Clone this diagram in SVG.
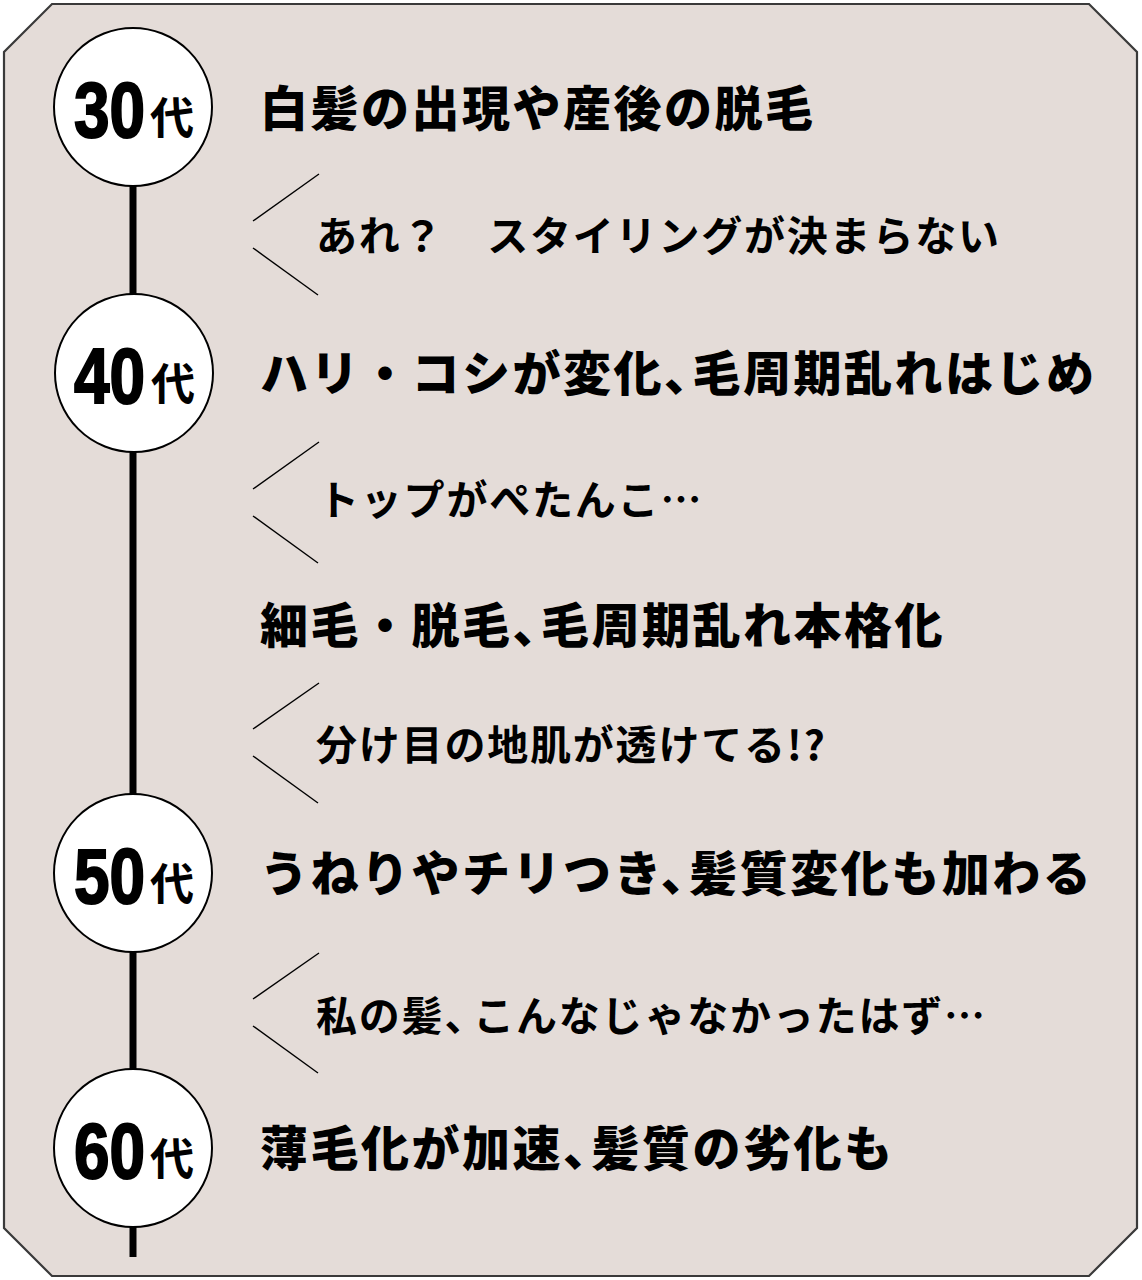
<svg xmlns="http://www.w3.org/2000/svg" width="1142" height="1280" viewBox="0 0 1142 1280">
<style>
.main{font-family:"Noto Sans CJK JP","Noto Sans CJK SC",sans-serif;font-weight:900;font-size:48px;letter-spacing:2.5px;fill:#000}
.sub{font-family:"Noto Sans CJK JP","Noto Sans CJK SC",sans-serif;font-weight:700;font-size:41px;letter-spacing:1.8px;fill:#000}
.num{font-family:"Liberation Sans",Arial,sans-serif;font-weight:700;font-size:78px;fill:#000;stroke:#000;stroke-width:2}
.dai{font-family:"Noto Sans CJK JP","Noto Sans CJK SC",sans-serif;font-weight:700;font-size:44px;fill:#000}
.circ{fill:#fff;stroke:#000;stroke-width:2}
.chev{fill:none;stroke:#000;stroke-width:1.4}
</style>
<polygon points="52,4 1089,4 1137,52 1137,1228 1089,1276 52,1276 4,1228 4,52" fill="#e4dcd8" stroke="#3a3a3a" stroke-width="2.2"/>
<g id="connectors">
<line x1="133" y1="180" x2="133" y2="1257" stroke="#000" stroke-width="7"/>
<polyline class="chev" points="319,174 253,221"/>
<polyline class="chev" points="253,248 318,295"/>
<polyline class="chev" points="319,442 253,489"/>
<polyline class="chev" points="253,516 318,563"/>
<polyline class="chev" points="319,683 253,729"/>
<polyline class="chev" points="253,756 318,803"/>
<polyline class="chev" points="319,953 253,999"/>
<polyline class="chev" points="253,1026 318,1073"/>
</g>
<g id="node-30">
<circle class="circ" cx="133" cy="107" r="79"/>
<text class="num" transform="translate(74,137) scale(0.82,1)">30</text>
<text class="dai" x="150" y="134">代</text>
</g>
<g id="node-40">
<circle class="circ" cx="134" cy="373" r="79"/>
<text class="num" transform="translate(74,403) scale(0.82,1)">40</text>
<text class="dai" x="151" y="400">代</text>
</g>
<g id="node-50">
<circle class="circ" cx="133" cy="873" r="79"/>
<text class="num" transform="translate(74,903) scale(0.82,1)">50</text>
<text class="dai" x="150" y="900">代</text>
</g>
<g id="node-60">
<circle class="circ" cx="133" cy="1148" r="79"/>
<text class="num" transform="translate(74,1178) scale(0.82,1)">60</text>
<text class="dai" x="150" y="1175">代</text>
</g>
<g id="labels">
<text class="main" x="260" y="126">白髪の出現や産後の脱毛</text>
<text class="sub" x="316" y="251">あれ？　スタイリングが決まらない</text>
<text class="main" x="260" y="391">ハリ・コシが変化、<tspan dx="-22">毛周期乱れはじめ</tspan></text>
<text class="sub" x="318" y="515">トップがぺたんこ…</text>
<text class="main" x="260" y="643">細毛・脱毛、<tspan dx="-22">毛周期乱れ本格化</tspan></text>
<text class="sub" x="316" y="760">分け目の地肌が透けてる!?</text>
<text class="main" x="260" y="891">うねりやチリつき、<tspan dx="-22">髪質変化も加わる</tspan></text>
<text class="sub" x="316" y="1031">私の髪、<tspan dx="-14">こんなじゃなかったはず…</tspan></text>
<text class="main" x="260" y="1166">薄毛化が加速、<tspan dx="-22">髪質の劣化も</tspan></text>
</g>
</svg>
